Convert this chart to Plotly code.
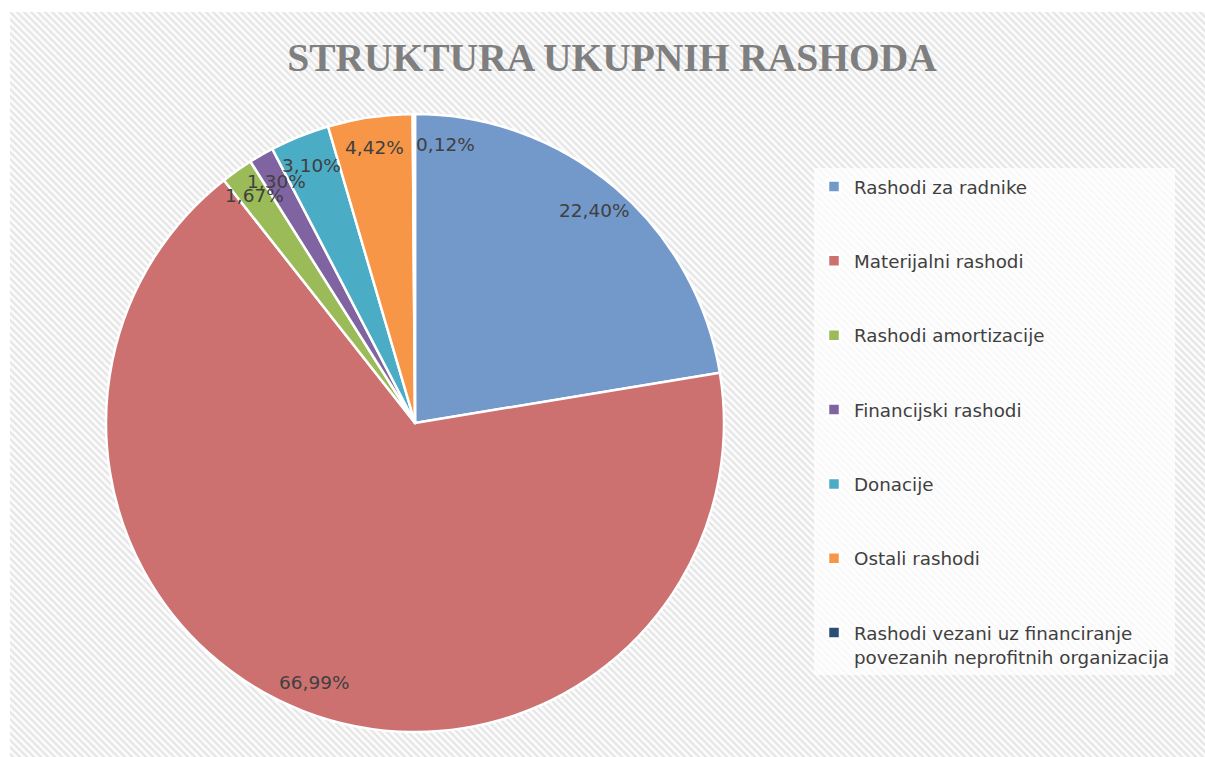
import base64
import math
import plotly.graph_objects as go

# ---- data ----
categories = [
    "Rashodi za radnike",
    "Materijalni rashodi",
    "Rashodi amortizacije",
    "Financijski rashodi",
    "Donacije",
    "Ostali rashodi",
    "Rashodi vezani uz financiranje<br>povezanih neprofitnih organizacija",
]
values = [22.40, 66.99, 1.67, 1.30, 3.10, 4.42, 0.12]
colors = ["#7399cb", "#cd7170", "#9bbb59", "#8064a2", "#4bacc6", "#f79646", "#2c4d75"]
title_text = "STRUKTURA UKUPNIH RASHODA"

W, H = 1205, 757


def px(X):
    return X / W


def py(Y):
    return 1 - Y / H


legend_names = [c + "<br> <br> " if "<br>" not in c else c for c in categories]

# hatched background
BW, BH = W - 10, H - 12
svg = (
    f'<svg xmlns="http://www.w3.org/2000/svg" width="{BW}" height="{BH}">'
    '<defs><pattern id="p" patternUnits="userSpaceOnUse" width="7" height="7">'
    '<rect width="7" height="7" fill="#fbfbfb"/>'
    '<path d="M-1,6 l2,2 M0,0 l7,7 M6,-1 l2,2" stroke="#e6e6e6" stroke-width="2.2"/>'
    f'</pattern></defs><rect width="{BW}" height="{BH}" fill="url(#p)"/></svg>'
)
src = "data:image/svg+xml;base64," + base64.b64encode(svg.encode()).decode()

cx, cy, r = 415, 423, 309
dom_x = [px(cx - r), px(cx + r)]
dom_y = [py(cy + r), py(cy - r)]

fig = go.Figure()
fig.add_trace(go.Pie(
    labels=legend_names,
    values=values,
    marker=dict(colors=colors, line=dict(color="white", width=2.5)),
    sort=False,
    direction="clockwise",
    rotation=0,
    textinfo="none",
    domain=dict(x=dom_x, y=dom_y),
    hoverinfo="label+percent",
))

# percentage labels placed near the outer edge along each slice's mid-angle
total = sum(values)
annotations = []
cum = 0.0
for v in values:
    theta = 2 * math.pi * (cum + v / 2) / total
    cum += v
    lx = cx + 0.9 * r * math.sin(theta)
    ly = cy - 0.9 * r * math.cos(theta)
    txt = f"{100 * v / total:.2f}%".replace(".", ",")
    anchor = "left" if v / total < 0.005 else "center"
    annotations.append(dict(
        x=px(lx), y=py(ly), xref="paper", yref="paper",
        text=txt, showarrow=False, xanchor=anchor, yanchor="middle",
        font=dict(family="DejaVu Sans", size=18.5, color="#404040"),
    ))

fig.update_layout(
    width=W, height=H,
    margin=dict(l=0, r=0, t=0, b=0),
    paper_bgcolor="white",
    plot_bgcolor="white",
    title=dict(
        text=title_text,
        x=px(612), xanchor="center",
        y=py(57), yanchor="middle",
        font=dict(family="Liberation Serif", size=39.5, color="#7f7f7f", weight="bold"),
    ),
    legend=dict(
        x=px(814), xanchor="left",
        y=py(168), yanchor="top",
        bgcolor="rgba(255,255,255,0.75)",
        font=dict(family="DejaVu Sans", size=18.3, color="#404040"),
        valign="top",
        traceorder="normal",
    ),
    annotations=annotations,
    images=[dict(
        source=src, xref="paper", yref="paper",
        x=px(10), y=py(12), sizex=BW / W, sizey=BH / H,
        xanchor="left", yanchor="top", sizing="stretch", layer="below",
    )],
)

fig.write_html(
    "out.html",
    config={"displayModeBar": False},
    post_script="document.body.style.margin='0';document.body.style.overflow='hidden';",
)
